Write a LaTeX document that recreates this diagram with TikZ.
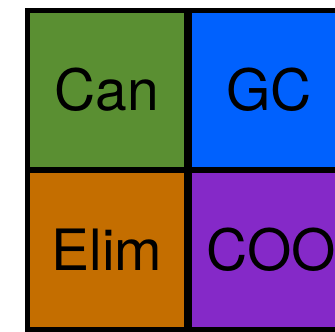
\documentclass[tikz,border=0pt]{standalone}
\usepackage{fontspec}
\setmainfont{TeX Gyre Heros}
\definecolor{cgreen}{RGB}{90,143,50}
\definecolor{cblue}{RGB}{0,97,254}
\definecolor{corange}{RGB}{196,110,0}
\definecolor{cpurple}{RGB}{133,41,200}
\begin{document}
\begin{tikzpicture}[x=1pt,y=-1pt,
  cell/.style={draw=black,line width=5pt,inner sep=0pt,outer sep=0pt,
    minimum width=159pt,minimum height=159pt},
  lbl/.style={inner sep=0pt,text height=41pt,text depth=0pt,
    font=\fontsize{57}{68}\selectfont}]
\useasboundingbox (0,0) rectangle (335,332);
\clip (0,0) rectangle (335,332);
\node[cell,fill=cgreen]  (can)  at (107,90)    {};
\node[cell,fill=cblue]   (gc)   at (269,90)    {};
\node[cell,fill=corange] (elim) at (107,249.5) {};
\node[cell,fill=cpurple] (coo)  at (269,249.5) {};
\node[lbl] (tcan)  at (can.center)  {Can};
\node[lbl] (tgc)   at (gc.center)   {GC};
\node[lbl] (telim) at (elim.center) {Elim};
\node[lbl,xshift=2pt] (tcoo) at (coo.center) {COO};
\end{tikzpicture}
\end{document}
